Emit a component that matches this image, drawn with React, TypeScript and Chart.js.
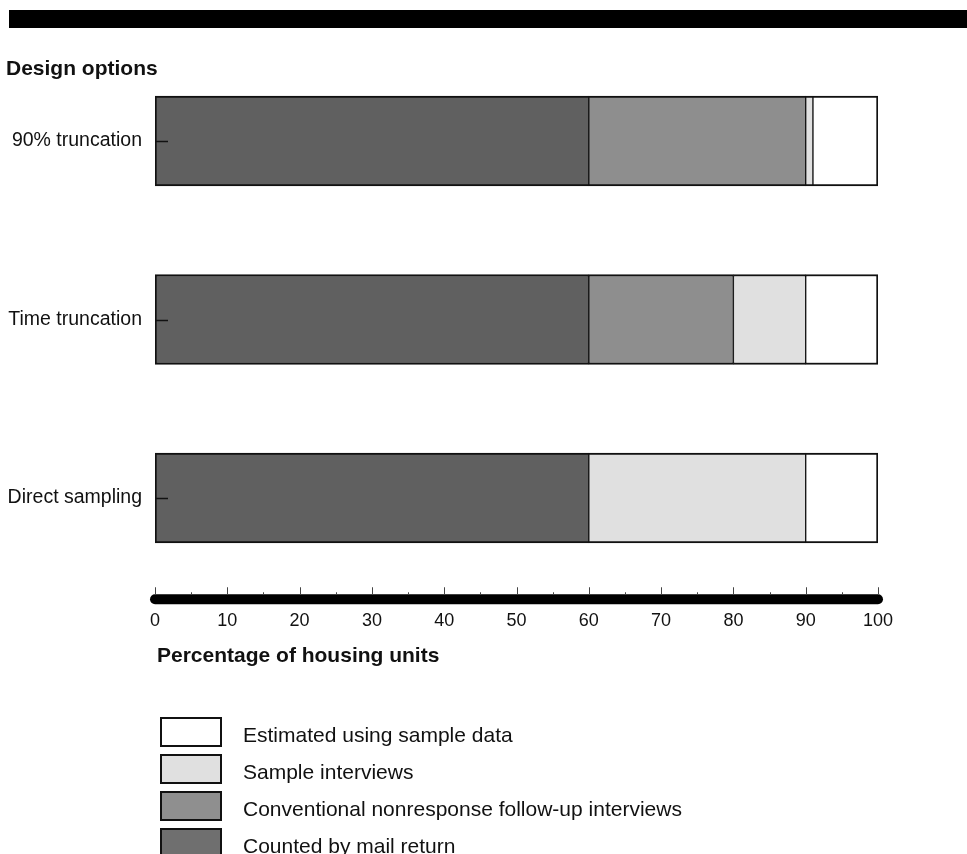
import React, { useEffect, useRef } from 'react';
import { Chart, registerables } from 'chart.js';

Chart.register(...registerables);

// ---- data ----
const categories = ['90% truncation', 'Time truncation', 'Direct sampling'];
const seriesNames = [
  'Counted by mail return',
  'Conventional nonresponse follow-up interviews',
  'Sample interviews',
  'Estimated using sample data',
];
const countedByMail = [60, 60, 60];
const conventionalFollowUp = [30, 20, 0];
const sampleInterviews = [1, 10, 30];
const estimatedFromSample = [9, 10, 10];
const xMin = 0;
const xMax = 100;
const xStep = 10;
const chartTitle = 'Design options';
const axisTitle = 'Percentage of housing units';

// ---- styles ----
const FONT = '"Liberation Sans", Arial, Helvetica, sans-serif';
const barColors = ['#606060', '#8e8e8e', '#e0e0e0', '#ffffff'];
const swatchColors = ['#6f6f6f', '#8f8f8f', '#e0e0e0', '#ffffff'];
const W = 967;
const H = 854;

const decorPlugin = {
  id: 'decor',
  afterDraw(chart: any) {
    const ctx = chart.ctx as CanvasRenderingContext2D;
    const xs = chart.scales.x;
    const ys = chart.scales.y;
    const area = chart.chartArea;
    ctx.save();

    // top black band
    ctx.fillStyle = '#000';
    ctx.fillRect(9, 10, W - 9, 18);

    // chart heading
    ctx.fillStyle = '#111';
    ctx.font = `bold 21px ${FONT}`;
    ctx.textAlign = 'left';
    ctx.textBaseline = 'alphabetic';
    ctx.fillText(chartTitle, 6, 75);

    // inward y ticks
    ctx.strokeStyle = '#111';
    ctx.lineWidth = 1.5;
    ys.ticks.forEach((_t: any, i: number) => {
      const y = Math.round(ys.getPixelForTick(i)) + 0.5;
      ctx.beginPath();
      ctx.moveTo(area.left, y);
      ctx.lineTo(area.left + 13, y);
      ctx.stroke();
    });

    // x axis line
    const axisY = area.bottom + 12;
    const x0 = xs.getPixelForValue(xMin);
    const x1 = xs.getPixelForValue(xMax);
    ctx.strokeStyle = '#000';
    ctx.lineWidth = 10;
    ctx.lineCap = 'round';
    ctx.beginPath();
    ctx.moveTo(x0, axisY);
    ctx.lineTo(x1, axisY);
    ctx.stroke();

    // x ticks (major and minor)
    ctx.lineCap = 'butt';
    ctx.lineWidth = 1;
    ctx.strokeStyle = '#444';
    for (let v = xMin; v <= xMax; v += xStep / 2) {
      const px = Math.round(xs.getPixelForValue(v)) + 0.5;
      const major = v % xStep === 0;
      ctx.beginPath();
      ctx.moveTo(px, axisY - 5);
      ctx.lineTo(px, axisY - (major ? 12 : 7));
      ctx.stroke();
    }

    // axis title
    ctx.fillStyle = '#111';
    ctx.font = `bold 21px ${FONT}`;
    ctx.textAlign = 'left';
    ctx.textBaseline = 'alphabetic';
    ctx.fillText(axisTitle, area.left + 2, 662);

    // legend (reverse order)
    const items = chart.data.datasets
      .map((d: any, i: number) => ({ label: d.label, color: swatchColors[i] }))
      .reverse();
    const boxX = 161;
    const boxW = 60;
    const boxH = 28;
    const startY = 718;
    const pitch = 37;
    ctx.font = `21px ${FONT}`;
    items.forEach((it: any, i: number) => {
      const by = startY + i * pitch;
      ctx.fillStyle = it.color;
      ctx.fillRect(boxX, by, boxW, boxH);
      ctx.strokeStyle = '#111';
      ctx.lineWidth = 2;
      ctx.strokeRect(boxX, by, boxW, boxH);
      ctx.fillStyle = '#111';
      ctx.fillText(it.label, 243, by + 24);
    });

    ctx.restore();
  },
};

export default function App() {
  const ref = useRef<HTMLCanvasElement | null>(null);

  useEffect(() => {
    if (!ref.current) return;
    const series = [countedByMail, conventionalFollowUp, sampleInterviews, estimatedFromSample];
    const datasets = series.map((values, i) => ({
      label: seriesNames[i],
      data: values,
      backgroundColor: barColors[i],
      borderColor: '#111',
      borderWidth: {
        top: 2,
        bottom: 2,
        left: i === 0 ? 2 : 1,
        right: i === series.length - 1 ? 2 : 1,
      },
      borderSkipped: false,
      barThickness: 90,
    }));

    const chart = new Chart(ref.current, {
      type: 'bar',
      data: { labels: categories, datasets },
      options: {
        indexAxis: 'y',
        responsive: false,
        animation: false,
        devicePixelRatio: 1,
        layout: { padding: { top: 51.75, right: 89, left: 0, bottom: 0 } },
        plugins: {
          legend: { display: false },
          tooltip: { enabled: false },
          title: { display: false },
        },
        scales: {
          x: {
            type: 'linear',
            stacked: true,
            min: xMin,
            max: xMax,
            grid: { display: false, drawTicks: false },
            border: { display: false },
            ticks: {
              stepSize: xStep,
              padding: 23,
              color: '#111',
              font: { family: FONT, size: 18 },
              maxRotation: 0,
              autoSkip: false,
            },
            afterFit(scale: any) {
              scale.height = H - 587.25;
            },
          },
          y: {
            type: 'category',
            stacked: true,
            offset: true,
            grid: { display: false, drawTicks: false },
            border: { display: false },
            ticks: {
              padding: 13,
              color: '#111',
              font: { family: FONT, size: 19.5 },
            },
            afterFit(scale: any) {
              scale.width = 155;
            },
          },
        },
      },
      plugins: [decorPlugin],
    } as any);

    return () => chart.destroy();
  }, []);

  return (
    <div style={{ position: 'fixed', left: 0, top: 0, width: W, height: H, background: '#fff' }}>
      <canvas ref={ref} width={W} height={H} style={{ display: 'block', width: W, height: H }} />
    </div>
  );
}
